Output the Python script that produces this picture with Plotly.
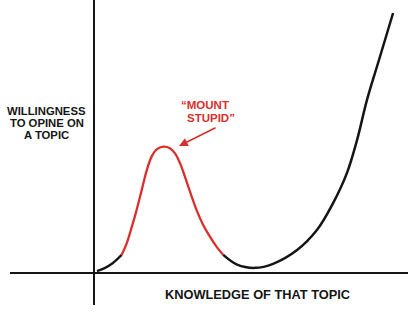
import plotly.graph_objects as go

# knowledge (x) and willingness (y) readings from the picture
start_x = [1.0, 3.7, 6.3, 9.2]
start_y = [0.7, 1.9, 3.7, 6.7]

peak_x = [9.2, 10.9, 12.6, 14.2, 15.9, 17.6, 19.2, 20.9, 23.1, 25.3, 27.0, 28.7,
          30.3, 32.0, 34.2, 36.4, 38.7, 40.9, 43.1]
peak_y = [6.7, 11.0, 17.1, 23.3, 30.7, 38.1, 43.1, 45.8, 46.8, 46.2, 44.3, 40.6,
          35.7, 30.1, 23.3, 17.8, 13.4, 9.7, 6.7]

rise_x = [43.1, 47.7, 53.7, 59.7, 67.7, 74.3, 79.7, 84.3, 87.7, 91.0, 95.3, 99.7]
rise_y = [6.7, 3.1, 1.9, 3.4, 8.5, 15.9, 25.9, 37.0, 49.3, 64.1, 80.0, 96.3]

y_label_lines = ["WILLINGNESS", "TO OPINE ON", "A TOPIC"]
x_label = "KNOWLEDGE OF THAT TOPIC"
peak_label_lines = ["\u201cMOUNT", "STUPID\u201d"]

RED = "#d8302c"
INK = "#151515"
FONT = "Liberation Sans"

fig = go.Figure()
fig.add_trace(go.Scatter(x=start_x, y=start_y, mode="lines",
                         line=dict(color=INK, width=2.3, shape="spline"), hoverinfo="skip"))
fig.add_trace(go.Scatter(x=peak_x, y=peak_y, mode="lines",
                         line=dict(color=RED, width=2.3, shape="spline"), hoverinfo="skip"))
fig.add_trace(go.Scatter(x=rise_x, y=rise_y, mode="lines",
                         line=dict(color=INK, width=2.5, shape="spline", smoothing=1.0),
                         hoverinfo="skip"))

# y label (left)
for i, t in enumerate(y_label_lines):
    fig.add_annotation(x=-15.7, y=(273 - (111 + 12 * i)) / 2.7, text="<b>%s</b>" % t,
                       showarrow=False, xref="x", yref="y",
                       font=dict(family=FONT, size=11.3, color=INK),
                       xanchor="center", yanchor="middle")

# x label (bottom)
fig.add_annotation(x=0.5 * ((163 - 94) / 3 + (353 - 94) / 3), y=(273 - 294) / 2.7,
                   text="<b>%s</b>" % x_label, showarrow=False,
                   font=dict(family=FONT, size=12.8, color=INK),
                   xanchor="center", yanchor="middle")

# Mount Stupid label
for i, t in enumerate(peak_label_lines):
    fig.add_annotation(x=((205 + 6 * i) - 94) / 3, y=(273 - (105 + 13 * i)) / 2.7,
                       text="<b>%s</b>" % t, showarrow=False,
                       font=dict(family=FONT, size=11.5, color=RED),
                       xanchor="center", yanchor="middle")

# arrow pointing at the peak
fig.add_annotation(x=(179 - 94) / 3, y=(273 - 146) / 2.7, ax=38, ay=-19, text="",
                   showarrow=True, arrowhead=2, arrowsize=1.1, arrowwidth=1.6,
                   arrowcolor=RED, axref="pixel", ayref="pixel")

fig.update_layout(
    width=418, height=313,
    margin=dict(l=10, r=10, t=0, b=8),
    paper_bgcolor="white", plot_bgcolor="white",
    showlegend=False,
    xaxis=dict(range=[-28, 104.67], showgrid=False, showticklabels=False, ticks="",
               zeroline=True, zerolinecolor=INK, zerolinewidth=2),
    yaxis=dict(range=[-11.85, 101.11], showgrid=False, showticklabels=False, ticks="",
               zeroline=True, zerolinecolor=INK, zerolinewidth=2),
)

fig.write_html("out.html")
